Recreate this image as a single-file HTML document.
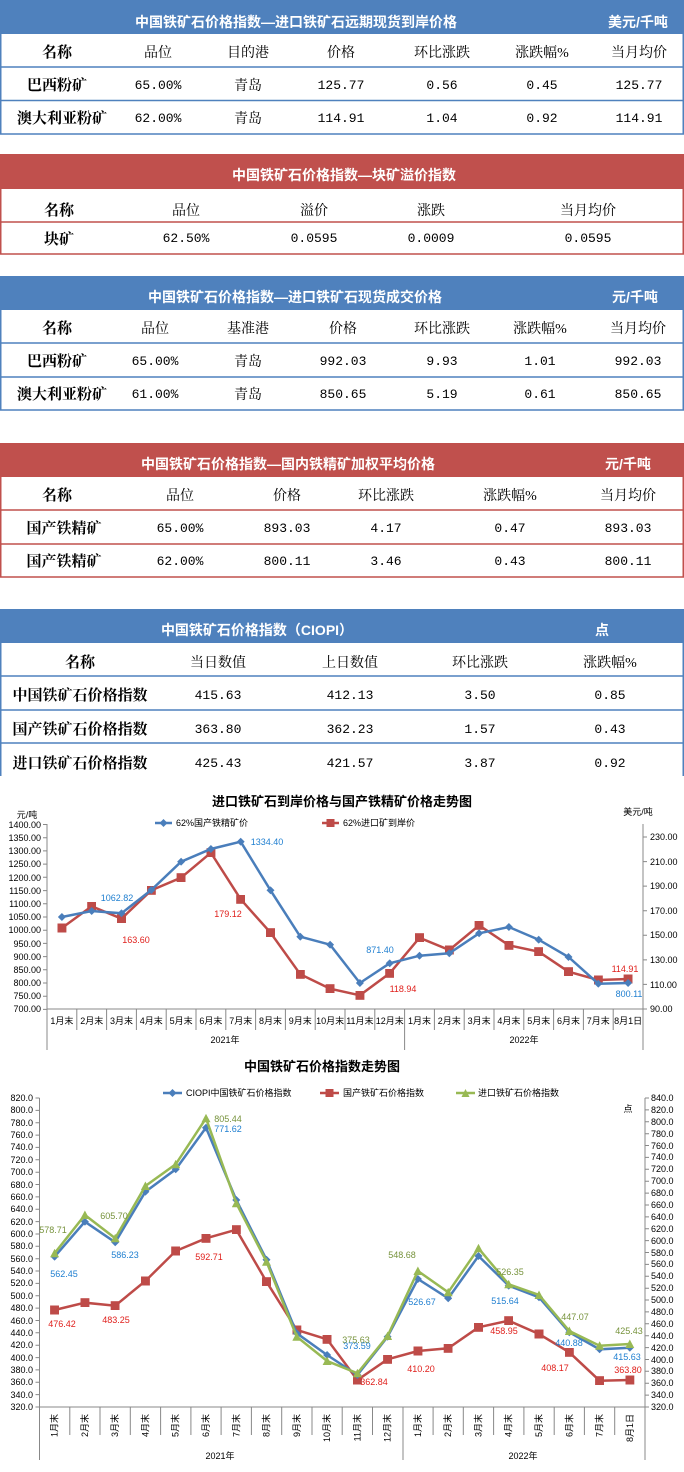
<!DOCTYPE html>
<html><head><meta charset="utf-8"><style>
html,body{margin:0;padding:0;background:#fff;}
svg{display:block;}
.h{font-family:"Liberation Sans","Noto Sans CJK SC",sans-serif;font-weight:bold;font-size:14px;fill:#fff;}
.c{font-family:"Liberation Serif","Noto Serif CJK SC",serif;font-size:14px;fill:#000;}
.b{font-family:"Liberation Serif","Noto Serif CJK SC",serif;font-size:15px;font-weight:bold;fill:#000;}
.n{font-family:"Liberation Mono","Noto Serif CJK SC",monospace;font-size:13px;fill:#000;}
.ax{font-family:"Liberation Sans","Noto Sans CJK SC",sans-serif;font-size:9px;fill:#000;}
.t{font-family:"Liberation Sans","Noto Sans CJK SC",sans-serif;font-size:13px;font-weight:bold;fill:#000;}
.lb{font-family:"Liberation Sans",sans-serif;font-size:9px;}
</style></head><body>
<svg width="684" height="1472" viewBox="0 0 684 1472" xmlns="http://www.w3.org/2000/svg">
<defs>
<marker id="dB" markerWidth="8" markerHeight="8" refX="4" refY="4" markerUnits="userSpaceOnUse"><path d="M4 0L8 4L4 8L0 4Z" fill="#4a7ebb"/></marker>
<marker id="sR" markerWidth="9" markerHeight="9" refX="4.5" refY="4.5" markerUnits="userSpaceOnUse"><rect x="0" y="0" width="9" height="9" fill="#be4b48"/></marker>
<marker id="tG" markerWidth="9" markerHeight="9" refX="4.5" refY="4.5" markerUnits="userSpaceOnUse"><path d="M4.5 0L9 8.5L0 8.5Z" fill="#98b954"/></marker>
</defs>
<g text-anchor="middle">
<!-- Table 1 -->
<rect x="0" y="0" width="684" height="34" fill="#4f81bd"/>
<text class="h" x="296" y="27">中国铁矿石价格指数—进口铁矿石远期现货到岸价格</text>
<text class="h" x="638" y="27">美元/千吨</text>
<g stroke="#4f81bd" stroke-width="1.5" fill="none"><path d="M0.75 34V134M683.25 34V134M0 67H684M0 100.5H684M0 134H684"/></g>
<text class="b" x="57" y="57">名称</text><text class="c" x="158" y="57">品位</text><text class="c" x="248" y="57">目的港</text><text class="c" x="341" y="57">价格</text><text class="c" x="442" y="57">环比涨跌</text><text class="c" x="542" y="57">涨跌幅%</text><text class="c" x="639" y="57">当月均价</text>
<text class="b" x="57" y="90">巴西粉矿</text><text class="n" x="158" y="89">65.00%</text><text class="c" x="248" y="90">青岛</text><text class="n" x="341" y="89">125.77</text><text class="n" x="442" y="89">0.56</text><text class="n" x="542" y="89">0.45</text><text class="n" x="639" y="89">125.77</text>
<text class="b" x="62" y="123">澳大利亚粉矿</text><text class="n" x="158" y="122">62.00%</text><text class="c" x="248" y="123">青岛</text><text class="n" x="341" y="122">114.91</text><text class="n" x="442" y="122">1.04</text><text class="n" x="542" y="122">0.92</text><text class="n" x="639" y="122">114.91</text>
<!-- Table 2 -->
<rect x="0" y="154" width="684" height="35" fill="#c0504d"/>
<text class="h" x="344" y="180">中国铁矿石价格指数—块矿溢价指数</text>
<g stroke="#c0504d" stroke-width="1.5" fill="none"><path d="M0.75 189V254M683.25 189V254M0 222H684M0 254H684"/></g>
<text class="b" x="59" y="215">名称</text><text class="c" x="186" y="215">品位</text><text class="c" x="314" y="215">溢价</text><text class="c" x="431" y="215">涨跌</text><text class="c" x="588" y="215">当月均价</text>
<text class="b" x="59" y="244">块矿</text><text class="n" x="186" y="242">62.50%</text><text class="n" x="314" y="242">0.0595</text><text class="n" x="431" y="242">0.0009</text><text class="n" x="588" y="242">0.0595</text>
<!-- Table 3 -->
<rect x="0" y="276" width="684" height="34" fill="#4f81bd"/>
<text class="h" x="295" y="302">中国铁矿石价格指数—进口铁矿石现货成交价格</text>
<text class="h" x="635" y="302">元/千吨</text>
<g stroke="#4f81bd" stroke-width="1.5" fill="none"><path d="M0.75 310V410M683.25 310V410M0 343H684M0 377H684M0 410H684"/></g>
<text class="b" x="57" y="333">名称</text><text class="c" x="155" y="333">品位</text><text class="c" x="248" y="333">基准港</text><text class="c" x="343" y="333">价格</text><text class="c" x="442" y="333">环比涨跌</text><text class="c" x="540" y="333">涨跌幅%</text><text class="c" x="638" y="333">当月均价</text>
<text class="b" x="57" y="366">巴西粉矿</text><text class="n" x="155" y="365">65.00%</text><text class="c" x="248" y="366">青岛</text><text class="n" x="343" y="365">992.03</text><text class="n" x="442" y="365">9.93</text><text class="n" x="540" y="365">1.01</text><text class="n" x="638" y="365">992.03</text>
<text class="b" x="62" y="399">澳大利亚粉矿</text><text class="n" x="155" y="398">61.00%</text><text class="c" x="248" y="399">青岛</text><text class="n" x="343" y="398">850.65</text><text class="n" x="442" y="398">5.19</text><text class="n" x="540" y="398">0.61</text><text class="n" x="638" y="398">850.65</text>
<!-- Table 4 -->
<rect x="0" y="443" width="684" height="34" fill="#c0504d"/>
<text class="h" x="288" y="469">中国铁矿石价格指数—国内铁精矿加权平均价格</text>
<text class="h" x="628" y="469">元/千吨</text>
<g stroke="#c0504d" stroke-width="1.5" fill="none"><path d="M0.75 477V577M683.25 477V577M0 510H684M0 544H684M0 577H684"/></g>
<text class="b" x="57" y="500">名称</text><text class="c" x="180" y="500">品位</text><text class="c" x="287" y="500">价格</text><text class="c" x="386" y="500">环比涨跌</text><text class="c" x="510" y="500">涨跌幅%</text><text class="c" x="628" y="500">当月均价</text>
<text class="b" x="64" y="533">国产铁精矿</text><text class="n" x="180" y="532">65.00%</text><text class="n" x="287" y="532">893.03</text><text class="n" x="386" y="532">4.17</text><text class="n" x="510" y="532">0.47</text><text class="n" x="628" y="532">893.03</text>
<text class="b" x="64" y="566">国产铁精矿</text><text class="n" x="180" y="565">62.00%</text><text class="n" x="287" y="565">800.11</text><text class="n" x="386" y="565">3.46</text><text class="n" x="510" y="565">0.43</text><text class="n" x="628" y="565">800.11</text>
<!-- Table 5 -->
<rect x="0" y="609" width="684" height="34" fill="#4f81bd"/>
<text class="h" x="257" y="635">中国铁矿石价格指数（CIOPI）</text>
<text class="h" x="602" y="635">点</text>
<g stroke="#4f81bd" stroke-width="1.5" fill="none"><path d="M0.75 643V776M683.25 643V776M0 676H684M0 710H684M0 743H684"/></g>
<text class="b" x="80" y="667">名称</text><text class="c" x="218" y="667">当日数值</text><text class="c" x="350" y="667">上日数值</text><text class="c" x="480" y="667">环比涨跌</text><text class="c" x="610" y="667">涨跌幅%</text>
<text class="b" x="80" y="700">中国铁矿石价格指数</text><text class="n" x="218" y="699">415.63</text><text class="n" x="350" y="699">412.13</text><text class="n" x="480" y="699">3.50</text><text class="n" x="610" y="699">0.85</text>
<text class="b" x="80" y="734">国产铁矿石价格指数</text><text class="n" x="218" y="733">363.80</text><text class="n" x="350" y="733">362.23</text><text class="n" x="480" y="733">1.57</text><text class="n" x="610" y="733">0.43</text>
<text class="b" x="80" y="768">进口铁矿石价格指数</text><text class="n" x="218" y="767">425.43</text><text class="n" x="350" y="767">421.57</text><text class="n" x="480" y="767">3.87</text><text class="n" x="610" y="767">0.92</text>
</g>

<!-- Chart 1 -->
<text class="t" x="342" y="806" text-anchor="middle">进口铁矿石到岸价格与国产铁精矿价格走势图</text>
<text class="ax" x="27" y="818" font-size="11" text-anchor="middle">元/吨</text>
<text class="ax" x="638" y="815" font-size="11" text-anchor="middle">美元/吨</text>
<g stroke="#888" stroke-width="1" fill="none">
<path d="M47 824V1050M643 824V1050M47 1009H643"/>
<path d="M43 824.5H47M43 837.7H47M43 850.9H47M43 864.1H47M43 877.3H47M43 890.6H47M43 903.8H47M43 917H47M43 930.2H47M43 943.4H47M43 956.6H47M43 969.8H47M43 983H47M43 996.2H47M43 1009.4H47"/>
<path d="M643 837H647M643 861.6H647M643 886.1H647M643 910.7H647M643 935.3H647M643 959.9H647M643 984.4H647M643 1009H647"/>
<path d="M76.8 1009V1030M106.6 1009V1030M136.4 1009V1030M166.2 1009V1030M196 1009V1030M225.8 1009V1030M255.6 1009V1030M285.4 1009V1030M315.2 1009V1030M345 1009V1030M374.8 1009V1030M434.4 1009V1030M464.2 1009V1030M494 1009V1030M523.8 1009V1030M553.6 1009V1030M583.4 1009V1030M613.2 1009V1030M404.6 1009V1050"/>
</g>
<g class="ax" text-anchor="end">
<text x="41" y="828">1400.00</text><text x="41" y="841">1350.00</text><text x="41" y="854">1300.00</text><text x="41" y="867">1250.00</text><text x="41" y="881">1200.00</text><text x="41" y="894">1150.00</text><text x="41" y="907">1100.00</text><text x="41" y="920">1050.00</text><text x="41" y="933">1000.00</text><text x="41" y="947">950.00</text><text x="41" y="960">900.00</text><text x="41" y="973">850.00</text><text x="41" y="986">800.00</text><text x="41" y="999">750.00</text><text x="41" y="1012">700.00</text>
</g>
<g class="ax">
<text x="650" y="840">230.00</text><text x="650" y="865">210.00</text><text x="650" y="889">190.00</text><text x="650" y="914">170.00</text><text x="650" y="938">150.00</text><text x="650" y="963">130.00</text><text x="650" y="988">110.00</text><text x="650" y="1012">90.00</text>
</g>
<g class="ax" text-anchor="middle">
<text x="61.9" y="1024">1月末</text><text x="91.7" y="1024">2月末</text><text x="121.5" y="1024">3月末</text><text x="151.3" y="1024">4月末</text><text x="181.1" y="1024">5月末</text><text x="210.9" y="1024">6月末</text><text x="240.7" y="1024">7月末</text><text x="270.5" y="1024">8月末</text><text x="300.3" y="1024">9月末</text><text x="330.1" y="1024">10月末</text><text x="359.9" y="1024">11月末</text><text x="389.7" y="1024">12月末</text><text x="419.5" y="1024">1月末</text><text x="449.3" y="1024">2月末</text><text x="479.1" y="1024">3月末</text><text x="508.9" y="1024">4月末</text><text x="538.7" y="1024">5月末</text><text x="568.5" y="1024">6月末</text><text x="598.3" y="1024">7月末</text><text x="628.1" y="1024">8月1日</text>
<text x="225" y="1043">2021年</text><text x="524" y="1043">2022年</text>
</g>
<!-- legend 1 -->
<path d="M155 823H172" stroke="#4a7ebb" stroke-width="2.5"/><path d="M163.5 819L167.5 823L163.5 827L159.5 823Z" fill="#4a7ebb"/>
<text class="lb" x="176" y="826">62%国产铁精矿价</text>
<path d="M322 823H339" stroke="#be4b48" stroke-width="2.5"/><rect x="326.5" y="819" width="8" height="8" fill="#be4b48"/>
<text class="lb" x="343" y="826">62%进口矿到岸价</text>
<polyline fill="none" stroke="#be4b48" stroke-width="2.5" marker-start="url(#sR)" marker-mid="url(#sR)" marker-end="url(#sR)" points="61.9,928 91.7,906.3 121.5,918.7 151.3,890.3 181.1,877.7 210.9,852.7 240.7,899.3 270.5,932.7 300.3,974.3 330.1,988.7 359.9,995.3 389.7,973.3 419.5,937.7 449.3,950 479.1,925.3 508.9,945.3 538.7,951.7 568.5,971.7 598.3,980 628.1,979"/>
<polyline fill="none" stroke="#4a7ebb" stroke-width="2.5" marker-start="url(#dB)" marker-mid="url(#dB)" marker-end="url(#dB)" points="61.9,917 91.7,911 121.5,913.3 151.3,890 181.1,861.7 210.9,849 240.7,841.7 270.5,890.3 300.3,936.7 330.1,944.7 359.9,983 389.7,963.3 419.5,955.7 449.3,953.3 479.1,933.3 508.9,927 538.7,939.7 568.5,957 598.3,983.7 628.1,983"/>
<g class="lb" text-anchor="middle">
<text x="267" y="845" fill="#1f7fd0">1334.40</text><text x="117" y="901" fill="#1f7fd0">1062.82</text><text x="380" y="953" fill="#1f7fd0">871.40</text><text x="629" y="997" fill="#1f7fd0">800.11</text>
<text x="136" y="943" fill="#e0201c">163.60</text><text x="228" y="917" fill="#e0201c">179.12</text><text x="403" y="992" fill="#e0201c">118.94</text><text x="625" y="972" fill="#e0201c">114.91</text>
</g>

<!-- Chart 2 -->
<text class="t" x="322" y="1071" text-anchor="middle">中国铁矿石价格指数走势图</text>
<text class="ax" x="628" y="1112" font-size="11" text-anchor="middle">点</text>
<g stroke="#888" stroke-width="1" fill="none">
<path d="M39.5 1098V1460M645 1098V1460M39.5 1407H645M403 1407V1460"/>
<path d="M35.5 1098H39.5M35.5 1110.4H39.5M35.5 1122.7H39.5M35.5 1135.1H39.5M35.5 1147.4H39.5M35.5 1159.8H39.5M35.5 1172.2H39.5M35.5 1184.5H39.5M35.5 1196.9H39.5M35.5 1209.2H39.5M35.5 1221.6H39.5M35.5 1234H39.5M35.5 1246.3H39.5M35.5 1258.7H39.5M35.5 1271H39.5M35.5 1283.4H39.5M35.5 1295.8H39.5M35.5 1308.1H39.5M35.5 1320.5H39.5M35.5 1332.8H39.5M35.5 1345.2H39.5M35.5 1357.6H39.5M35.5 1369.9H39.5M35.5 1382.3H39.5M35.5 1394.6H39.5M35.5 1407H39.5"/>
<path d="M645 1098H649M645 1109.9H649M645 1121.8H649M645 1133.7H649M645 1145.5H649M645 1157.4H649M645 1169.3H649M645 1181.2H649M645 1193.1H649M645 1205H649M645 1216.9H649M645 1228.7H649M645 1240.6H649M645 1252.5H649M645 1264.4H649M645 1276.3H649M645 1288.2H649M645 1300H649M645 1311.9H649M645 1323.8H649M645 1335.7H649M645 1347.6H649M645 1359.5H649M645 1371.3H649M645 1383.2H649M645 1395.1H649M645 1407H649"/>
<path d="M69.8 1407V1435M100 1407V1435M130.3 1407V1435M160.6 1407V1435M190.9 1407V1435M221.1 1407V1435M251.4 1407V1435M281.7 1407V1435M312 1407V1435M342.2 1407V1435M372.5 1407V1435M433.1 1407V1435M463.3 1407V1435M493.6 1407V1435M523.9 1407V1435M554.2 1407V1435M584.4 1407V1435M614.7 1407V1435"/>
</g>
<g class="ax" text-anchor="end">
<text x="33" y="1101">820.0</text><text x="33" y="1113">800.0</text><text x="33" y="1126">780.0</text><text x="33" y="1138">760.0</text><text x="33" y="1150">740.0</text><text x="33" y="1163">720.0</text><text x="33" y="1175">700.0</text><text x="33" y="1188">680.0</text><text x="33" y="1200">660.0</text><text x="33" y="1212">640.0</text><text x="33" y="1225">620.0</text><text x="33" y="1237">600.0</text><text x="33" y="1249">580.0</text><text x="33" y="1262">560.0</text><text x="33" y="1274">540.0</text><text x="33" y="1286">520.0</text><text x="33" y="1299">500.0</text><text x="33" y="1311">480.0</text><text x="33" y="1324">460.0</text><text x="33" y="1336">440.0</text><text x="33" y="1348">420.0</text><text x="33" y="1361">400.0</text><text x="33" y="1373">380.0</text><text x="33" y="1385">360.0</text><text x="33" y="1398">340.0</text><text x="33" y="1410">320.0</text>
</g>
<g class="ax">
<text x="651" y="1101">840.0</text><text x="651" y="1113">820.0</text><text x="651" y="1125">800.0</text><text x="651" y="1137">780.0</text><text x="651" y="1149">760.0</text><text x="651" y="1160">740.0</text><text x="651" y="1172">720.0</text><text x="651" y="1184">700.0</text><text x="651" y="1196">680.0</text><text x="651" y="1208">660.0</text><text x="651" y="1220">640.0</text><text x="651" y="1232">620.0</text><text x="651" y="1244">600.0</text><text x="651" y="1256">580.0</text><text x="651" y="1267">560.0</text><text x="651" y="1279">540.0</text><text x="651" y="1291">520.0</text><text x="651" y="1303">500.0</text><text x="651" y="1315">480.0</text><text x="651" y="1327">460.0</text><text x="651" y="1339">440.0</text><text x="651" y="1351">420.0</text><text x="651" y="1363">400.0</text><text x="651" y="1374">380.0</text><text x="651" y="1386">360.0</text><text x="651" y="1398">340.0</text><text x="651" y="1410">320.0</text>
</g>
<g class="ax" text-anchor="end">
<text transform="translate(57.6,1414) rotate(-90)">1月末</text><text transform="translate(87.9,1414) rotate(-90)">2月末</text><text transform="translate(118.2,1414) rotate(-90)">3月末</text><text transform="translate(148.4,1414) rotate(-90)">4月末</text><text transform="translate(178.7,1414) rotate(-90)">5月末</text><text transform="translate(209,1414) rotate(-90)">6月末</text><text transform="translate(239.3,1414) rotate(-90)">7月末</text><text transform="translate(269.5,1414) rotate(-90)">8月末</text><text transform="translate(299.8,1414) rotate(-90)">9月末</text><text transform="translate(330.1,1414) rotate(-90)">10月末</text><text transform="translate(360.4,1414) rotate(-90)">11月末</text><text transform="translate(390.6,1414) rotate(-90)">12月末</text><text transform="translate(420.9,1414) rotate(-90)">1月末</text><text transform="translate(451.2,1414) rotate(-90)">2月末</text><text transform="translate(481.5,1414) rotate(-90)">3月末</text><text transform="translate(511.7,1414) rotate(-90)">4月末</text><text transform="translate(542,1414) rotate(-90)">5月末</text><text transform="translate(572.3,1414) rotate(-90)">6月末</text><text transform="translate(602.6,1414) rotate(-90)">7月末</text><text transform="translate(632.8,1414) rotate(-90)">8月1日</text>
</g>
<g class="ax" text-anchor="middle"><text x="220" y="1459">2021年</text><text x="523" y="1459">2022年</text></g>
<!-- legend 2 -->
<path d="M163 1093H182" stroke="#4a7ebb" stroke-width="2.5"/><path d="M172.5 1089L176.5 1093L172.5 1097L168.5 1093Z" fill="#4a7ebb"/>
<text class="lb" x="186" y="1096">CIOPI中国铁矿石价格指数</text>
<path d="M320 1093H339" stroke="#be4b48" stroke-width="2.5"/><rect x="325.5" y="1089" width="8" height="8" fill="#be4b48"/>
<text class="lb" x="343" y="1096">国产铁矿石价格指数</text>
<path d="M456 1093H475" stroke="#98b954" stroke-width="2.5"/><path d="M465.5 1089L469.5 1097L461.5 1097Z" fill="#98b954"/>
<text class="lb" x="478" y="1096">进口铁矿石价格指数</text>
<polyline fill="none" stroke="#be4b48" stroke-width="2.5" marker-start="url(#sR)" marker-mid="url(#sR)" marker-end="url(#sR)" points="54.6,1310 84.9,1302.7 115.2,1305.7 145.4,1281 175.7,1251 206,1238.3 236.3,1229.7 266.5,1281.7 296.8,1330 327.1,1339.3 357.4,1380 387.6,1359.3 417.9,1351 448.2,1348.3 478.5,1327.3 508.7,1320.7 539,1334 569.3,1352.3 599.6,1380.7 629.8,1380"/>
<polyline fill="none" stroke="#4a7ebb" stroke-width="2.5" marker-start="url(#dB)" marker-mid="url(#dB)" marker-end="url(#dB)" points="54.6,1256.7 84.9,1221.7 115.2,1242.3 145.4,1191.7 175.7,1169.3 206,1127.7 236.3,1200 266.5,1259.7 296.8,1333.3 327.1,1355 357.4,1375 387.6,1336.7 417.9,1279 448.2,1298.3 478.5,1256 508.7,1285.7 539,1297.3 569.3,1332.3 599.6,1349.3 629.8,1347.7"/>
<polyline fill="none" stroke="#98b954" stroke-width="2.5" marker-start="url(#tG)" marker-mid="url(#tG)" marker-end="url(#tG)" points="54.6,1253.3 84.9,1215 115.2,1238.3 145.4,1186 175.7,1164.3 206,1118.3 236.3,1203.3 266.5,1261.7 296.8,1336.7 327.1,1361 357.4,1373.3 387.6,1336 417.9,1271 448.2,1292.3 478.5,1248.3 508.7,1284.3 539,1295 569.3,1331 599.6,1345.7 629.8,1344"/>
<g class="lb" text-anchor="middle">
<text x="53" y="1233" fill="#77933c">578.71</text><text x="114" y="1219" fill="#77933c">605.70</text><text x="228" y="1122" fill="#77933c">805.44</text><text x="356" y="1343" fill="#77933c">375.63</text><text x="402" y="1258" fill="#77933c">548.68</text><text x="510" y="1275" fill="#77933c">526.35</text><text x="575" y="1320" fill="#77933c">447.07</text><text x="629" y="1334" fill="#77933c">425.43</text>
<text x="64" y="1277" fill="#1f7fd0">562.45</text><text x="125" y="1258" fill="#1f7fd0">586.23</text><text x="228" y="1132" fill="#1f7fd0">771.62</text><text x="357" y="1349" fill="#1f7fd0">373.59</text><text x="422" y="1305" fill="#1f7fd0">526.67</text><text x="505" y="1304" fill="#1f7fd0">515.64</text><text x="569" y="1346" fill="#1f7fd0">440.88</text><text x="627" y="1360" fill="#1f7fd0">415.63</text>
<text x="62" y="1327" fill="#e0201c">476.42</text><text x="116" y="1323" fill="#e0201c">483.25</text><text x="209" y="1260" fill="#e0201c">592.71</text><text x="374" y="1385" fill="#e0201c">362.84</text><text x="421" y="1372" fill="#e0201c">410.20</text><text x="504" y="1334" fill="#e0201c">458.95</text><text x="555" y="1371" fill="#e0201c">408.17</text><text x="628" y="1373" fill="#e0201c">363.80</text>
</g>
</svg>
</body></html>
